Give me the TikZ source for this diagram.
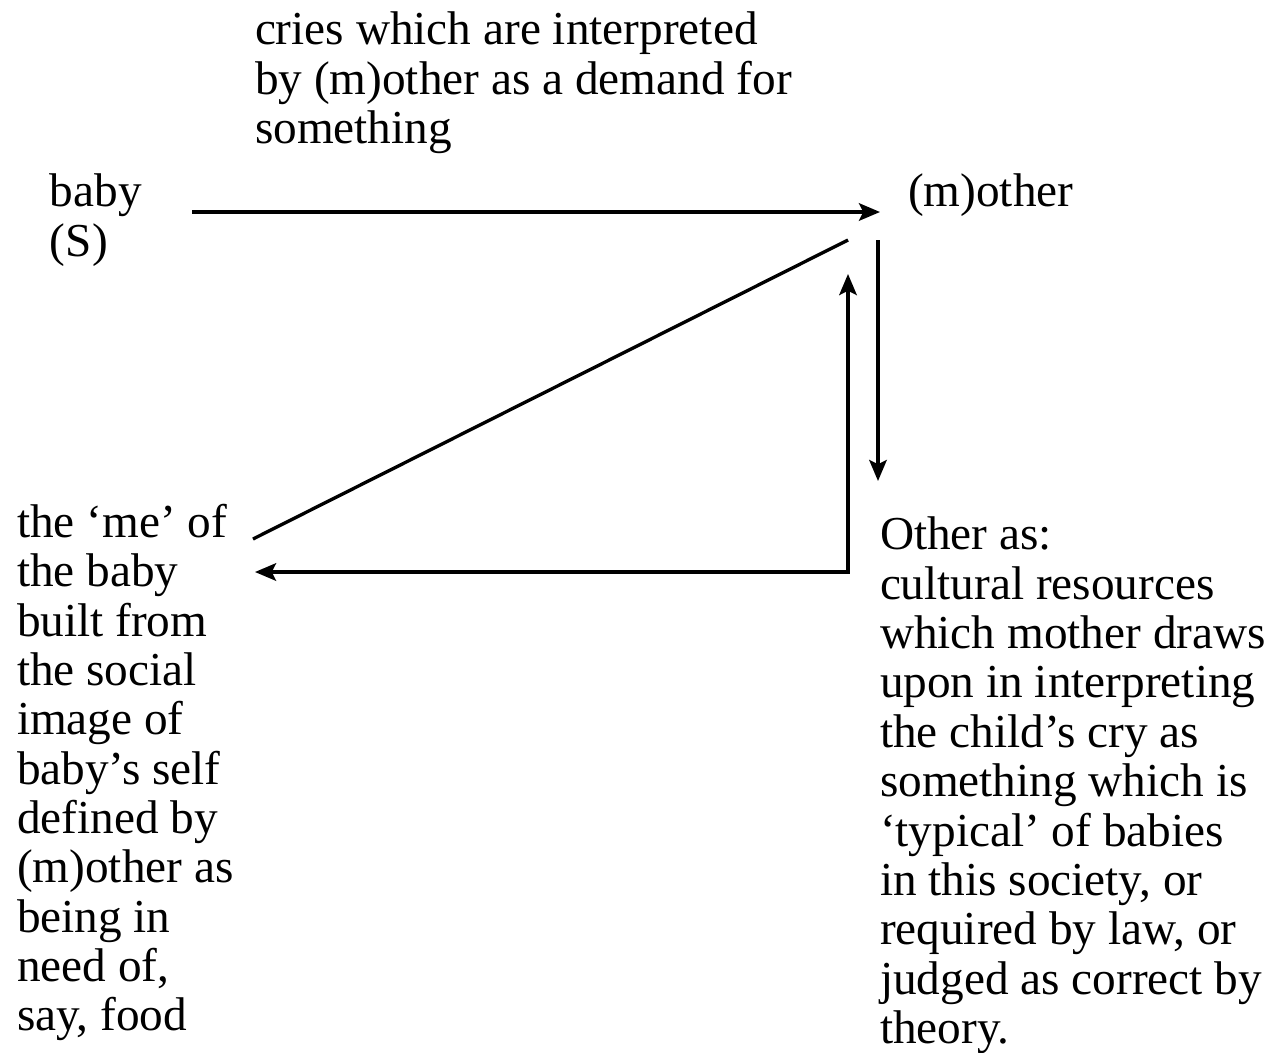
\documentclass[tikz,border=0pt]{standalone}
\usepackage{fontspec}
\setmainfont{Liberation Serif}
\usetikzlibrary{arrows.meta}
\begin{document}
\begin{tikzpicture}[x=0.02cm,y=-0.02cm,
  txt/.style={anchor=north west,inner sep=0pt,outer sep=0pt,align=left,
    font=\fontsize{26.9}{28.1}\selectfont},
  conn/.style={line width=1.9pt},
  arr/.style={conn,-{Stealth[length=12pt,width=10pt,inset=2.5pt]}},
  darr/.style={conn,{Stealth[length=12pt,width=10pt,inset=2.5pt]}-{Stealth[length=12pt,width=10pt,inset=2.5pt]}}]
\useasboundingbox (0,0) rectangle (1274,1052);
\node[txt] (cries) at (255,12) {cries which are interpreted\\by (m)other as a demand for\\something};
\node[txt] (baby) at (50,174) {baby\\(S)};
\node[txt] (mother) at (908,174) {(m)other};
\node[txt] (me) at (17,504) {the ‘me’ of\\the baby\\built from\\the social\\image of\\baby’s self\\defined by\\(m)other as\\being in\\need of,\\say, food};
\node[txt] (other) at (880,517) {Other as:\\cultural resources\\which mother draws\\upon in interpreting\\the child’s cry as\\something which is\\‘typical’ of babies\\in this society, or\\required by law, or\\judged as correct by\\theory.};
% connector end points
\coordinate (babyout) at (192,212);
\coordinate (motherin) at (880,212);
\coordinate (motherdiag) at (848,240);
\coordinate (mediag) at (253,539);
\coordinate (motherdown) at (878,240);
\coordinate (otherin) at (878,481);
\coordinate (motherup) at (848,274);
\coordinate (corner) at (848,572);
\coordinate (mein) at (255,572);
\draw[arr] (babyout) -- (motherin);
\draw[conn] (mediag) -- (motherdiag);
\draw[arr] (motherdown) -- (otherin);
\draw[darr,line join=miter] (mein) -- (corner) -- (motherup);
\end{tikzpicture}
\end{document}
